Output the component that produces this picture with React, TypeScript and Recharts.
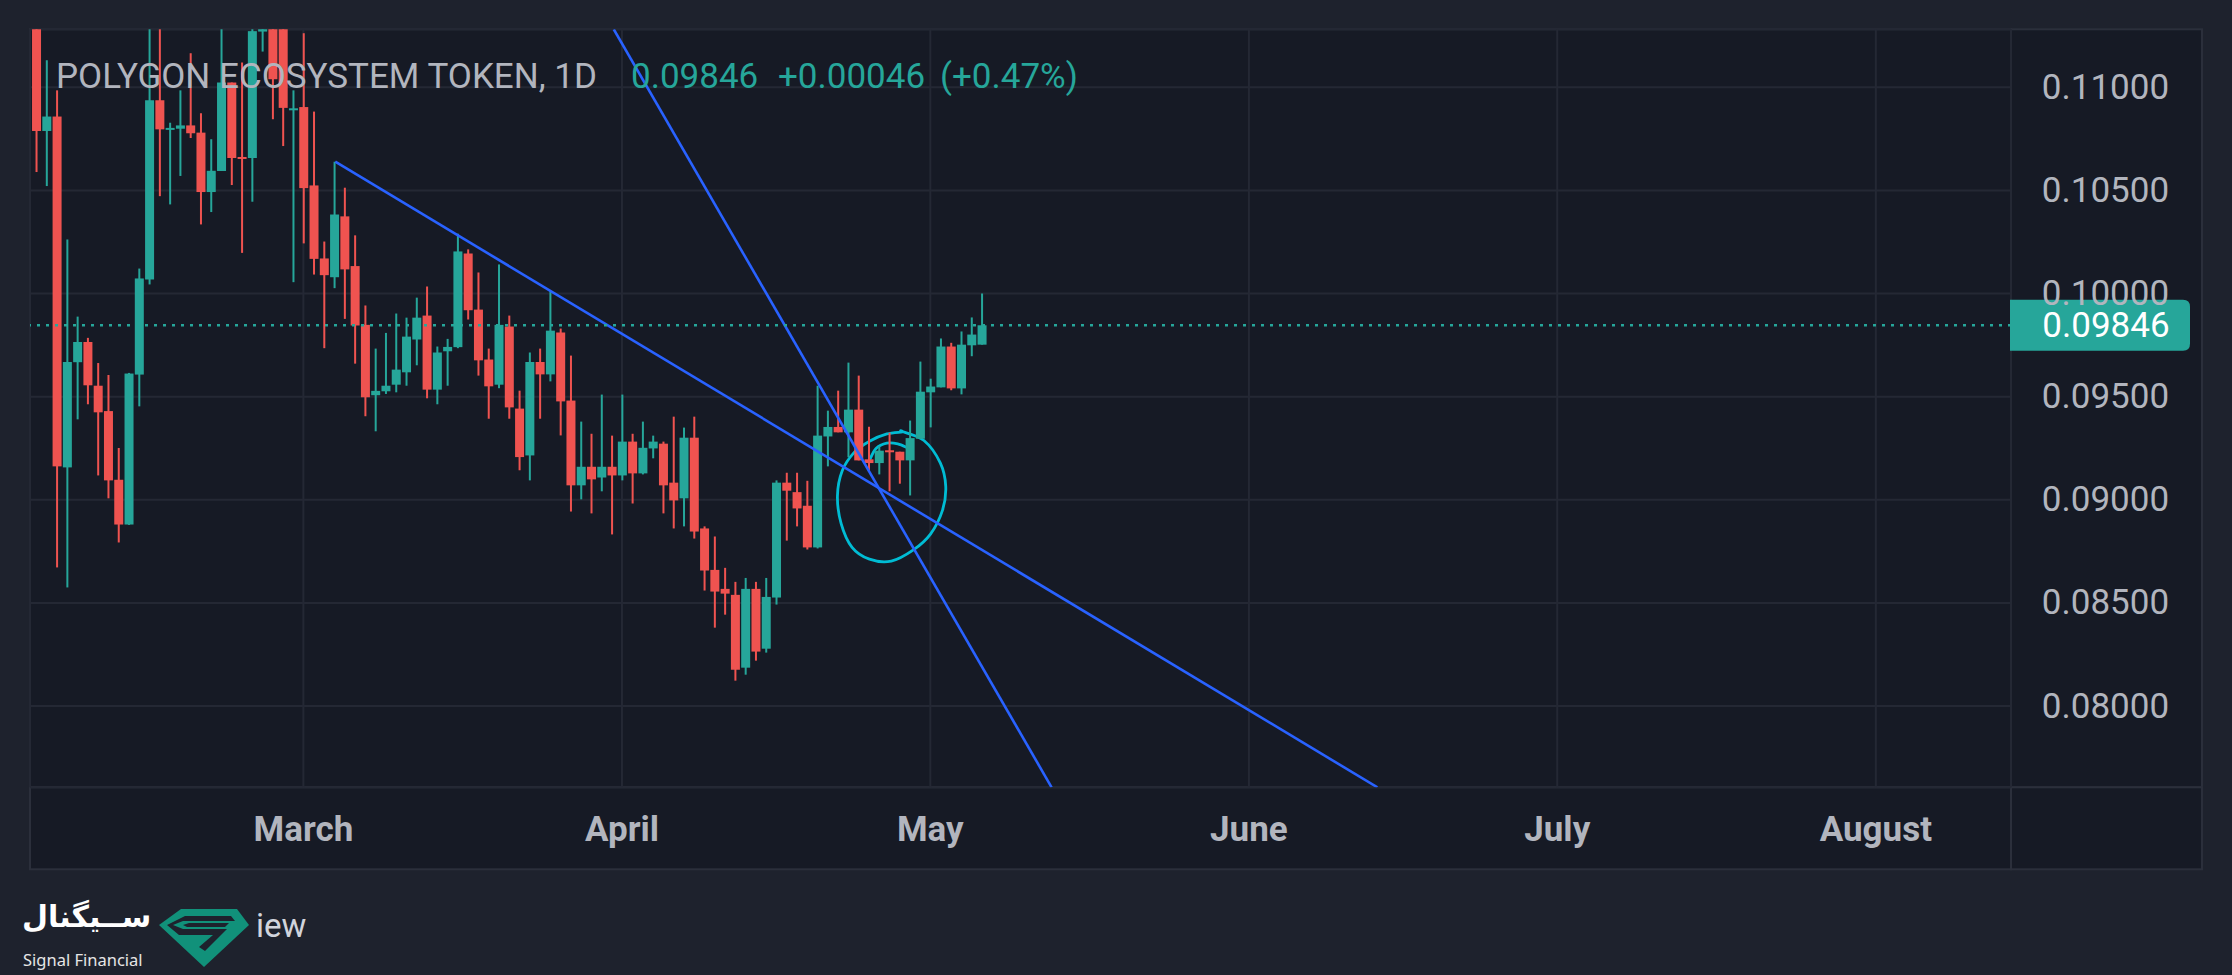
import React from 'react';
import {
  ComposedChart,
  Bar,
  XAxis,
  YAxis,
  CartesianGrid,
  ReferenceLine,
  ReferenceArea,
} from 'recharts';

// ---- data (days counted from 1 March; first candle is 3 February) ----
const FIRST_DAY = -26;

const opens = [
  0.115, 0.10788, 0.10858, 0.09157, 0.09667, 0.09765, 0.09553, 0.0943, 0.09097, 0.0888,
  0.09607, 0.10068, 0.10937, 0.10796, 0.10799, 0.10815, 0.1078, 0.10492, 0.10594, 0.11023,
  0.10662, 0.10657, 0.1127, 0.1155, 0.114, 0.10892, 0.10904, 0.10524, 0.1017, 0.10079,
  0.10374, 0.10133, 0.09848, 0.09507, 0.09526, 0.09558, 0.09618, 0.09777, 0.09893, 0.09534,
  0.0972, 0.0974, 0.10194, 0.09922, 0.0968, 0.09558, 0.0984, 0.09442, 0.09215, 0.09668,
  0.09608, 0.09811, 0.09481, 0.0907, 0.0916, 0.09108, 0.0916, 0.09118, 0.09282, 0.09128,
  0.09249, 0.09272, 0.09083, 0.09007, 0.09301, 0.08861, 0.0866, 0.08568, 0.08539, 0.08186,
  0.08568, 0.08278, 0.08526, 0.09083, 0.09037, 0.08971, 0.08769, 0.09307, 0.09353, 0.09327,
  0.09437, 0.09196, 0.09178, 0.0924, 0.09233, 0.09191, 0.09296, 0.09521, 0.09545, 0.09743,
  0.0954, 0.09749, 0.09752,
];
const highs = [
  0.116, 0.11131, 0.10985, 0.10262, 0.09888, 0.09785, 0.09663, 0.09605, 0.09251, 0.09615,
  0.10121, 0.114, 0.1135, 0.10828, 0.10985, 0.11165, 0.10874, 0.10748, 0.114, 0.11023,
  0.1112, 0.1145, 0.115, 0.1165, 0.115, 0.10985, 0.11262, 0.10882, 0.10252, 0.10639,
  0.10513, 0.10282, 0.09942, 0.09733, 0.09809, 0.09903, 0.09883, 0.0998, 0.10034, 0.09743,
  0.0978, 0.1029, 0.10214, 0.10102, 0.09733, 0.10141, 0.09893, 0.09529, 0.09714, 0.09733,
  0.10011, 0.0983, 0.09699, 0.09379, 0.0932, 0.0951, 0.09311, 0.0951, 0.0932, 0.09379,
  0.09311, 0.09282, 0.09403, 0.0935, 0.09403, 0.08871, 0.08822, 0.0867, 0.08602, 0.08621,
  0.08602, 0.08621, 0.09094, 0.09131, 0.09131, 0.09092, 0.09553, 0.09432, 0.09529, 0.09665,
  0.09602, 0.09354, 0.09259, 0.09325, 0.09233, 0.09384, 0.0967, 0.09587, 0.09782, 0.09761,
  0.09816, 0.09884, 0.1,
];
const lows = [
  0.10589, 0.10521, 0.08672, 0.08575, 0.0939, 0.09463, 0.09118, 0.09007, 0.08793, 0.08878,
  0.09453, 0.10044, 0.10472, 0.10432, 0.1057, 0.10754, 0.10335, 0.10395, 0.10594, 0.10526,
  0.10197, 0.10445, 0.11173, 0.10845, 0.10715, 0.10055, 0.10243, 0.10092, 0.09735, 0.10026,
  0.09877, 0.0966, 0.09405, 0.09332, 0.09513, 0.09521, 0.09553, 0.09652, 0.09492, 0.09463,
  0.09553, 0.09735, 0.09874, 0.09602, 0.09393, 0.09541, 0.09393, 0.09143, 0.09094, 0.09393,
  0.09574, 0.09312, 0.08943, 0.09002, 0.08934, 0.09041, 0.08832, 0.09094, 0.08982, 0.09123,
  0.09201, 0.08934, 0.08861, 0.08871, 0.08812, 0.0856, 0.0838, 0.08443, 0.08123, 0.08152,
  0.0822, 0.08259, 0.08492, 0.08802, 0.08871, 0.08759, 0.08764, 0.09162, 0.09327, 0.09206,
  0.09191, 0.09142, 0.09123, 0.09041, 0.09078, 0.09021, 0.09296, 0.09351, 0.09545, 0.09531,
  0.09511, 0.09696, 0.09752,
];
const closes = [
  0.10788, 0.10858, 0.09162, 0.09668, 0.09765, 0.09555, 0.09424, 0.09094, 0.0888, 0.09612,
  0.10073, 0.10937, 0.10796, 0.10803, 0.10815, 0.10777, 0.10492, 0.10595, 0.11023, 0.10657,
  0.10658, 0.11272, 0.114, 0.11039, 0.109, 0.10898, 0.10511, 0.10168, 0.10089, 0.10383,
  0.10117, 0.09845, 0.09497, 0.09528, 0.09553, 0.09631, 0.09791, 0.09883, 0.09534, 0.09714,
  0.09741, 0.10204, 0.09919, 0.09676, 0.0955, 0.09848, 0.09448, 0.09207, 0.09668, 0.09608,
  0.0982, 0.09477, 0.0907, 0.0916, 0.09099, 0.0916, 0.09118, 0.09282, 0.09128, 0.09252,
  0.09282, 0.0907, 0.08997, 0.09301, 0.08846, 0.08657, 0.08555, 0.08545, 0.08176, 0.08568,
  0.08264, 0.08529, 0.09083, 0.09044, 0.08958, 0.08769, 0.09311, 0.09353, 0.09327, 0.09437,
  0.09191, 0.09178, 0.09238, 0.09231, 0.09191, 0.09299, 0.09524, 0.09549, 0.09743, 0.0954,
  0.09752, 0.09801, 0.09846,
];

const monthTicks = [0, 31, 61, 92, 122, 153];
const monthLabels = ['March', 'April', 'May', 'June', 'July', 'August'];
const priceTicks = [0.08, 0.085, 0.09, 0.095, 0.1, 0.105, 0.11];
const xDomain = [-26.6, 166.15];
const yDomain = [0.07606, 0.11281];

const lastPrice = 0.09846;
const priceChange = '+0.00046';
const priceChangePct = '(+0.47%)';
const titleText = 'POLYGON ECOSYSTEM TOKEN, 1D';

const trendLineA = [
  { day: 3.1, price: 0.10639 },
  { day: 104.5, price: 0.07606 },
];
const trendLineB = [
  { day: 30.2, price: 0.11281 },
  { day: 72.8, price: 0.07606 },
];
const circleBox = { x1: 51.9, x2: 62.5, y1: 0.08693, y2: 0.09332 };

// ---- styling ----
const GREEN = '#26a69a';
const RED = '#ef5350';
const BLUE = '#2962ff';
const CYAN = '#00bcd4';
const TEXT = '#b2b5be';
const OUTER_BG = '#1e222d';
const PANEL_BG = '#161a25';
const BORDER = '#2b2f3b';
const GRID = '#242834';
const FONT = "Roboto, 'DejaVu Sans', sans-serif";

const W = 2232;
const H = 975;

const data = opens.map((o, i) => ({
  day: FIRST_DAY + i,
  open: o,
  high: highs[i],
  low: lows[i],
  close: closes[i],
  range: [lows[i], highs[i]],
}));

const Candle = (props: any) => {
  const { x, y, width, height, payload } = props;
  if (!payload || x == null || y == null) return null;
  const { open, close, high, low } = payload;
  const up = close >= open;
  const color = up ? GREEN : RED;
  const top = Math.min(y, y + height);
  const h = Math.abs(height);
  const k = h / (high - low || 1);
  const bodyTop = top + (high - Math.max(open, close)) * k;
  const bodyH = Math.max(Math.abs(open - close) * k, 2);
  const cx = x + width / 2;
  return (
    <g>
      <rect x={cx - 1} y={top} width={2} height={h} fill={color} />
      <rect x={x} y={bodyTop} width={width} height={bodyH} fill={color} />
    </g>
  );
};

// hand-drawn loop profile, relative to its bounding box
const loopPoints = [
  [0.596, 0.0], [0.80, 0.07], [0.95, 0.24], [1.0, 0.418], [0.97, 0.6], [0.86, 0.78],
  [0.703, 0.9], [0.5, 0.985], [0.3, 0.97], [0.14, 0.88], [0.04, 0.7], [0.006, 0.49],
  [0.05, 0.3], [0.16, 0.16], [0.3, 0.075], [0.46, 0.02], [0.6, 0.005],
];
const innerArc = [
  [0.3, 0.22], [0.36, 0.13], [0.46, 0.09], [0.56, 0.095], [0.65, 0.125],
];

function smoothPath(pts: number[][], closed: boolean) {
  const n = pts.length;
  const get = (i: number) => {
    if (closed) return pts[(i + n) % n];
    return pts[Math.max(0, Math.min(n - 1, i))];
  };
  let d = `M${pts[0][0]},${pts[0][1]}`;
  const segs = closed ? n : n - 1;
  for (let i = 0; i < segs; i++) {
    const p0 = get(i - 1), p1 = get(i), p2 = get(i + 1), p3 = get(i + 2);
    const c1 = [p1[0] + (p2[0] - p0[0]) / 6, p1[1] + (p2[1] - p0[1]) / 6];
    const c2 = [p2[0] - (p3[0] - p1[0]) / 6, p2[1] - (p3[1] - p1[1]) / 6];
    d += ` C${c1[0]},${c1[1]} ${c2[0]},${c2[1]} ${p2[0]},${p2[1]}`;
  }
  return d + (closed ? ' Z' : '');
}

const HandLoop = (props: any) => {
  const { x, y, width, height } = props;
  if (x == null) return null;
  const map = (pts: number[][]) => pts.map(([px, py]) => [x + px * width, y + py * height]);
  return (
    <g>
      <path d={smoothPath(map(loopPoints), true)} fill="none" stroke={CYAN} strokeWidth={2.8} />
      <path d={smoothPath(map(innerArc), false)} fill="none" stroke={CYAN} strokeWidth={2.8} />
    </g>
  );
};

const PriceBadge = (props: any) => {
  const vb = props.viewBox || {};
  const left = (vb.x || 0) + (vb.width || 0) - 1;
  const cy = vb.y || 0;
  const w = 180;
  const h = 51;
  const r = 7;
  const t = cy - h / 2;
  const d = `M${left},${t} H${left + w - r} Q${left + w},${t} ${left + w},${t + r} V${t + h - r} Q${left + w},${t + h} ${left + w - r},${t + h} H${left} Z`;
  return (
    <g>
      <path d={d} fill={GREEN} />
      <text
        x={left + 96}
        y={cy}
        textAnchor="middle"
        dominantBaseline="central"
        fill="#ffffff"
        fontSize={35}
        fontFamily={FONT}
      >
        {lastPrice.toFixed(5)}
      </text>
    </g>
  );
};

const MonthTick = (props: any) => {
  const { x, y, payload } = props;
  const idx = monthTicks.indexOf(payload.value);
  return (
    <text
      x={x}
      y={y + 42}
      textAnchor="middle"
      dominantBaseline="central"
      fill={TEXT}
      fontSize={35}
      fontWeight={700}
      fontFamily={FONT}
    >
      {idx >= 0 ? monthLabels[idx] : ''}
    </text>
  );
};

const PriceTick = (props: any) => {
  const { x, y, payload } = props;
  return (
    <text
      x={x + 94.5}
      y={y}
      textAnchor="middle"
      dominantBaseline="central"
      fill={TEXT}
      fontSize={35}
      fontFamily={FONT}
    >
      {Number(payload.value).toFixed(5)}
    </text>
  );
};

const Logo = () => (
  <svg
    width={90}
    height={62}
    viewBox="0 0 90 62"
    style={{ position: 'absolute', left: 159, top: 907 }}
  >
    <polygon points="22,2 78,2 90,18 45,60 0,18" fill="#11917a" />
    <polygon points="26,9 72,9 76,14 24,14 14,18 24,22 68,22 46,44 40,40 54,28 20,28 8,18" fill={OUTER_BG} />
    <polygon points="30,16 70,16 66,20 28,20 24,18" fill={OUTER_BG} />
  </svg>
);

export default function App() {
  return (
    <div
      style={{
        position: 'fixed',
        left: 0,
        top: 0,
        width: W,
        height: H,
        background: OUTER_BG,
        overflow: 'hidden',
        fontFamily: FONT,
      }}
    >
      <svg width={W} height={H} style={{ position: 'absolute', left: 0, top: 0 }}>
        <g fill={PANEL_BG} stroke={BORDER} strokeWidth={2}>
          <rect x={30} y={29.3} width={1981} height={758} />
          <rect x={2011} y={29.3} width={191} height={758} />
          <rect x={30} y={787.3} width={1981} height={82} />
          <rect x={2011} y={787.3} width={191} height={82} />
        </g>
      </svg>

      <div style={{ position: 'absolute', left: 0, top: 0 }}>
        <ComposedChart
          width={W}
          height={H}
          data={data}
          margin={{ top: 29.3, right: 30, bottom: 105.7, left: 30 }}
        >
          <CartesianGrid stroke={GRID} strokeWidth={2} />
          <XAxis
            dataKey="day"
            type="number"
            domain={xDomain}
            ticks={monthTicks}
            allowDataOverflow
            axisLine={false}
            tickLine={false}
            tickSize={0}
            tickMargin={0}
            height={82}
            tick={<MonthTick />}
            interval={0}
          />
          <YAxis
            orientation="right"
            type="number"
            domain={yDomain}
            ticks={priceTicks}
            allowDataOverflow
            axisLine={false}
            tickLine={false}
            tickSize={0}
            tickMargin={0}
            width={191}
            tick={<PriceTick />}
            interval={0}
          />
          <Bar dataKey="range" barSize={9} shape={<Candle />} isAnimationActive={false} />
          <ReferenceLine
            segment={[
              { x: trendLineA[0].day, y: trendLineA[0].price },
              { x: trendLineA[1].day, y: trendLineA[1].price },
            ]}
            stroke={BLUE}
            strokeWidth={2.6}
            ifOverflow="hidden"
          />
          <ReferenceLine
            segment={[
              { x: trendLineB[0].day, y: trendLineB[0].price },
              { x: trendLineB[1].day, y: trendLineB[1].price },
            ]}
            stroke={BLUE}
            strokeWidth={2.6}
            ifOverflow="hidden"
          />
          <ReferenceArea
            x1={circleBox.x1}
            x2={circleBox.x2}
            y1={circleBox.y1}
            y2={circleBox.y2}
            shape={<HandLoop />}
          />
          <ReferenceLine
            y={lastPrice}
            stroke={GREEN}
            strokeWidth={2.5}
            strokeDasharray="3 6"
            label={<PriceBadge />}
          />
        </ComposedChart>
      </div>

      <svg width={W} height={H} style={{ position: 'absolute', left: 0, top: 0, pointerEvents: 'none' }}>
        <text x={56} y={88.3} fill={TEXT} fontSize={35} fontFamily={FONT}>
          {titleText}
        </text>
        <text x={631} y={88.3} fill={GREEN} fontSize={35} fontFamily={FONT}>
          {lastPrice.toFixed(5)}
        </text>
        <text x={778} y={88.3} fill={GREEN} fontSize={35} fontFamily={FONT}>
          {priceChange}
        </text>
        <text x={940} y={88.3} fill={GREEN} fontSize={35} fontFamily={FONT}>
          {priceChangePct}
        </text>
        <text x={256} y={937} fill="#d1d4dc" fontSize={33} fontFamily={FONT}>
          iew
        </text>
        <text x={23} y={966} fill="#e6e6e6" fontSize={16.5} fontFamily="'Noto Sans', 'DejaVu Sans', sans-serif">
          Signal Financial
        </text>
      </svg>

      <div
        dir="rtl"
        style={{
          position: 'absolute',
          left: 22,
          top: 897,
          fontFamily: "'DejaVu Sans', sans-serif",
          fontWeight: 700,
          fontSize: 30,
          lineHeight: '40px',
          color: '#ffffff',
          whiteSpace: 'nowrap',
        }}
      >
        ســیگنال
      </div>
      <Logo />
    </div>
  );
}
